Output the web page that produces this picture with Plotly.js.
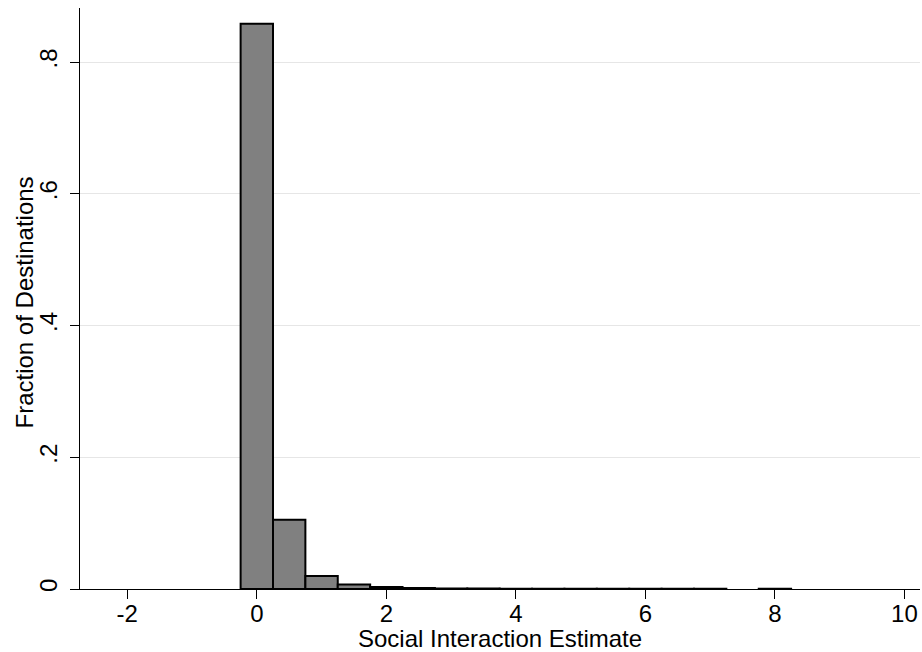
<!DOCTYPE html>
<html>
<head>
<meta charset="utf-8">
<script src="https://cdn.plot.ly/plotly-3.0.1.min.js"></script>
<style>html,body{margin:0;padding:0;background:#fff;}#chart{width:922px;height:652px;}</style>
</head>
<body>
<div id="chart"></div>
<script>
// Bin centers (bin width 0.5) and fraction of destinations
var binCenters = [0, 0.5, 1.0, 1.5, 2.0, 2.5, 3.0, 3.5, 4.0, 4.5, 5.0, 5.5, 6.0, 6.5, 7.0, 8.0];
var fractions  = [0.858, 0.105, 0.0198, 0.007, 0.003, 0.0015, 0.0008, 0.0006, 0.0005, 0.0004, 0.0004, 0.0003, 0.0003, 0.0003, 0.0003, 0.0003];
var binWidth = 0.5;

var xTickVals = [-2, 0, 2, 4, 6, 8, 10];
var xTickText = ["-2", "0", "2", "4", "6", "8", "10"];
var yTickVals = [0, 0.2, 0.4, 0.6, 0.8];
var yTickText = ["0", ".2", ".4", ".6", ".8"];
var xTitle = "Social Interaction Estimate";
var yTitle = "Fraction of Destinations";

var font = {family: "Liberation Sans, Arial, sans-serif", size: 24, color: "#000"};

var trace = {
  type: "bar",
  x: binCenters,
  y: fractions,
  width: binCenters.map(function(){ return binWidth; }),
  marker: {color: "#808080", line: {color: "#000", width: 2}},
  hoverinfo: "x+y"
};
// empty helper trace so the overlay axis (long tick marks) is drawn
var tickTrace = {type: "scatter", x: [], y: [], xaxis: "x2", yaxis: "y", showlegend: false};

var layout = {
  width: 922, height: 652,
  margin: {l: 80, r: 2, t: 8, b: 63},
  paper_bgcolor: "#fff", plot_bgcolor: "#fff",
  font: font,
  showlegend: false,
  bargap: 0,
  xaxis: {
    range: [-2.73, 10.24],
    tickvals: xTickVals, ticktext: xTickText,
    ticks: "outside", ticklen: 3, tickwidth: 1, tickcolor: "#000",
    showline: true, linecolor: "#000", linewidth: 1,
    showgrid: false, zeroline: false,
    tickfont: font,
    ticklabelstandoff: 0
  },
  xaxis2: {
    overlaying: "x", matches: "x", anchor: "y", side: "bottom",
    range: [-2.73, 10.24],
    tickvals: xTickVals,
    ticks: "outside", ticklen: 9, tickwidth: 1, tickcolor: "#000",
    showticklabels: false, showline: false, showgrid: false, zeroline: false
  },
  yaxis: {
    range: [0, 0.882],
    tickvals: yTickVals, ticktext: yTickText,
    tickangle: -90,
    ticks: "outside", ticklen: 9, tickwidth: 1, tickcolor: "#000",
    showline: true, linecolor: "#000", linewidth: 1,
    showgrid: true, gridcolor: "#e6e6e6", gridwidth: 1,
    zeroline: false,
    tickfont: font,
    ticklabelstandoff: 3
  },
  annotations: [
    {text: xTitle, xref: "paper", yref: "paper", x: 0.5, y: 0,
     xanchor: "center", yanchor: "middle", yshift: -49, showarrow: false, font: font},
    {text: yTitle, xref: "paper", yref: "paper", x: 0, y: 0.5, textangle: -90,
     xanchor: "center", yanchor: "middle", xshift: -56, yshift: -4, showarrow: false, font: font}
  ]
};

Plotly.newPlot("chart", [trace, tickTrace], layout, {displayModeBar: false, staticPlot: true});
</script>
</body>
</html>
